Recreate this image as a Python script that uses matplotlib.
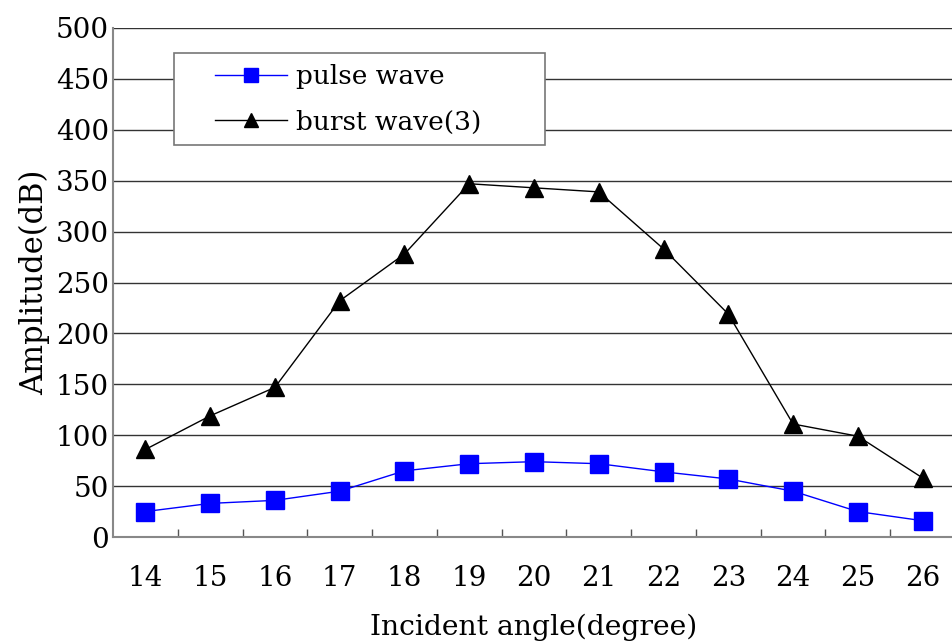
import numpy as np
import matplotlib.pyplot as plt
from matplotlib.patches import Rectangle

plt.rcParams['font.family'] = ['DejaVu Serif']

# data
angles = [14, 15, 16, 17, 18, 19, 20, 21, 22, 23, 24, 25, 26]
pulse = [25, 33, 36, 45, 65, 72, 74, 72, 64, 57, 45, 25, 16]
burst = [86, 119, 147, 232, 278, 347, 343, 339, 283, 219, 111, 99, 58]
yticks = [0, 50, 100, 150, 200, 250, 300, 350, 400, 450, 500]

fig = plt.figure(figsize=(9.52, 6.43), dpi=100)
ax = fig.add_axes([113/952, 106/643, 842/952, 509/643])

x = np.arange(len(angles))
ax.plot(x, pulse, color='blue', lw=1, marker='s', ms=13, mfc='blue', mec='blue',
        label='pulse wave', zorder=3)
ax.plot(x, burst, color='black', lw=1, marker='^', ms=13, mfc='black', mec='black',
        label='burst wave(3)', zorder=3)

ax.set_xlim(-0.5, len(angles) - 0.5)
ax.set_ylim(0, 500)

for v in yticks[1:]:
    ax.axhline(v, color='#333333', lw=1, zorder=1)

ax.set_yticks(yticks)
ax.set_yticklabels([str(v) for v in yticks], fontsize=20)
ax.tick_params(axis='y', length=0, pad=3)

ax.set_xticks(x)
ax.set_xticklabels([str(a) for a in angles], fontsize=20)
ax.tick_params(axis='x', which='major', length=0, pad=20)
ax.set_xticks(x[:-1] + 0.5, minor=True)
ax.tick_params(axis='x', which='minor', direction='in', length=6, width=1, color='#555555')

for s in ['top', 'right']:
    ax.spines[s].set_visible(False)
for s in ['left', 'bottom']:
    ax.spines[s].set_color('#888888')
    ax.spines[s].set_linewidth(1.5)

ax.set_xlabel('Incident angle(degree)', fontsize=20.3, labelpad=16)
ax.set_ylabel('Amplitude(dB)', fontsize=22, labelpad=4)

# legend frame is wider than its content in the original
ax.add_patch(Rectangle((61/842, 392/509), 371/842, 92/509, transform=ax.transAxes,
                       facecolor='white', edgecolor='#777777', lw=1.2, zorder=4))
leg = ax.legend(loc='upper left', bbox_to_anchor=(102/842, 473/509), fontsize=19,
                frameon=False, borderpad=0, borderaxespad=0,
                handlelength=2.73, handletextpad=0.34,
                markerscale=0.75, labelspacing=0.78)
leg.set_zorder(5)

fig.savefig('out.png', dpi=100)
